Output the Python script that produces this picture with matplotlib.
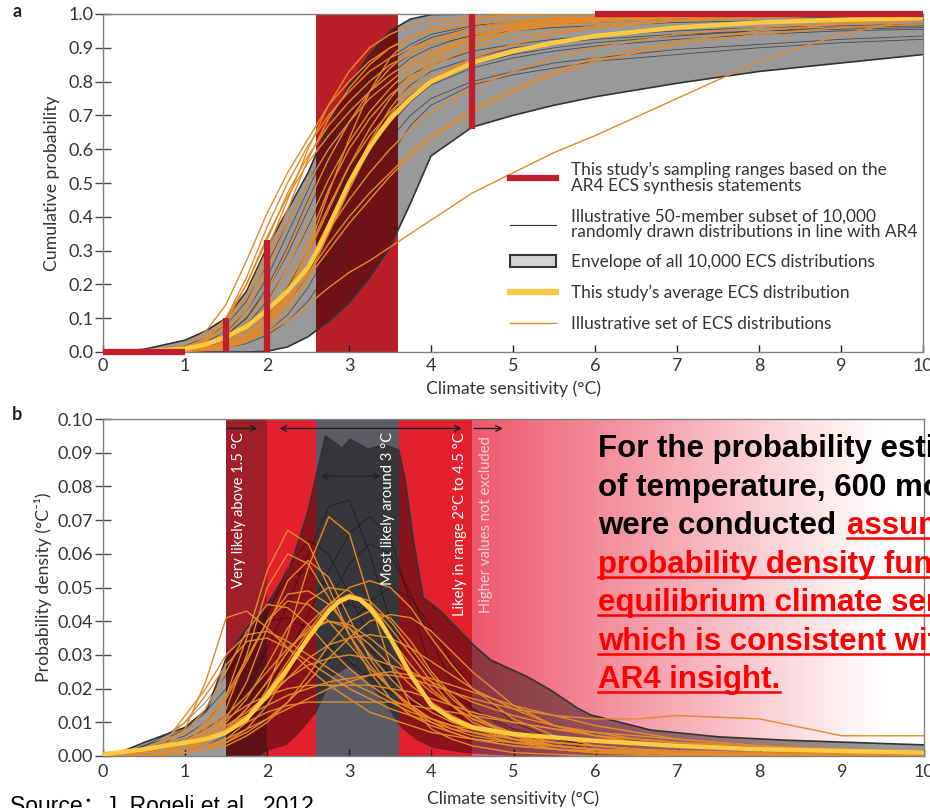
import numpy as np
import matplotlib
matplotlib.use('Agg')
import matplotlib.pyplot as plt
from matplotlib.lines import Line2D
from matplotlib.patches import Patch

plt.rcParams['font.family'] = ['Lato', 'DejaVu Sans']

W, H = 930, 808

# ---------- panel a: cumulative distributions ----------
xc = [0, 0.5, 1.0, 1.25, 1.5, 1.75, 2.0, 2.25, 2.5, 2.75, 3.0, 3.25, 3.5, 3.75,
      4.0, 4.5, 5.0, 5.5, 6.0, 7.0, 8.0, 9.0, 10.0]

env_hi = [0, 0.008, 0.035, 0.062, 0.1, 0.18, 0.31, 0.42, 0.53, 0.67, 0.79, 0.88,
          0.95, 0.985, 0.998, 1, 1, 1, 1, 1, 1, 1, 1]
env_lo = [0, 0, 0, 0, 0, 0, 0.002, 0.015, 0.045, 0.09, 0.145, 0.22, 0.31, 0.44,
          0.58, 0.665, 0.70, 0.73, 0.755, 0.795, 0.83, 0.855, 0.88]

xa = [0, 0.5, 1.0, 1.25, 1.5, 1.75, 2.0, 2.25, 2.5, 2.625, 2.75, 2.875, 3.0, 3.125,
      3.25, 3.375, 3.5, 3.75, 4.0, 4.5, 5.0, 5.5, 6.0, 7.0, 8.0, 9.0, 10.0]
cdf_avg = [0, 0.002, 0.01, 0.022, 0.045, 0.075, 0.124, 0.18, 0.25, 0.305, 0.37, 0.435,
           0.5, 0.555, 0.605, 0.65, 0.69, 0.75, 0.8, 0.855, 0.89, 0.915, 0.935, 0.96,
           0.975, 0.983, 0.988]

cdf_gray = [
    [0, 0.002, 0.02, 0.04, 0.08, 0.15, 0.26, 0.38, 0.5, 0.62, 0.72, 0.8, 0.86, 0.9, 0.93, 0.96, 0.975, 0.985, 0.99, 0.995, 1, 1, 1],
    [0, 0.001, 0.01, 0.025, 0.05, 0.1, 0.18, 0.29, 0.42, 0.55, 0.66, 0.75, 0.82, 0.87, 0.9, 0.94, 0.96, 0.97, 0.975, 0.985, 0.99, 0.99, 0.995],
    [0, 0.001, 0.01, 0.02, 0.04, 0.08, 0.15, 0.25, 0.37, 0.5, 0.61, 0.7, 0.77, 0.82, 0.85, 0.89, 0.91, 0.925, 0.935, 0.95, 0.96, 0.965, 0.97],
    [0, 0.001, 0.008, 0.015, 0.03, 0.06, 0.11, 0.19, 0.3, 0.43, 0.55, 0.65, 0.73, 0.79, 0.83, 0.87, 0.9, 0.915, 0.925, 0.94, 0.95, 0.955, 0.96],
    [0, 0, 0.005, 0.01, 0.02, 0.04, 0.08, 0.14, 0.23, 0.35, 0.47, 0.58, 0.67, 0.74, 0.79, 0.84, 0.87, 0.89, 0.905, 0.925, 0.94, 0.95, 0.955],
    [0, 0, 0.004, 0.008, 0.015, 0.03, 0.06, 0.11, 0.19, 0.3, 0.42, 0.53, 0.63, 0.7, 0.75, 0.8, 0.83, 0.855, 0.87, 0.895, 0.91, 0.925, 0.935],
    [0, 0.002, 0.015, 0.03, 0.06, 0.12, 0.22, 0.35, 0.48, 0.61, 0.72, 0.81, 0.87, 0.91, 0.94, 0.965, 0.98, 0.985, 0.99, 0.995, 1, 1, 1],
    [0, 0, 0.003, 0.006, 0.012, 0.025, 0.05, 0.09, 0.15, 0.24, 0.35, 0.47, 0.58, 0.67, 0.73, 0.79, 0.82, 0.84, 0.86, 0.88, 0.9, 0.915, 0.925],
    [0, 0.001, 0.012, 0.025, 0.05, 0.1, 0.19, 0.31, 0.45, 0.58, 0.69, 0.78, 0.84, 0.88, 0.91, 0.935, 0.95, 0.96, 0.965, 0.975, 0.98, 0.985, 0.99],
    [0, 0, 0.006, 0.012, 0.025, 0.05, 0.1, 0.18, 0.29, 0.41, 0.52, 0.62, 0.7, 0.76, 0.8, 0.85, 0.88, 0.9, 0.915, 0.935, 0.95, 0.96, 0.965],
]

cdf_orange = [
    [0, 0, 0.02, 0.06, 0.14, 0.27, 0.41, 0.53, 0.63, 0.73, 0.8, 0.86, 0.9, 0.93, 0.95, 0.97, 0.98, 0.985, 0.99, 0.995, 1, 1, 1],
    [0, 0, 0.01, 0.04, 0.1, 0.22, 0.37, 0.5, 0.61, 0.7, 0.77, 0.83, 0.87, 0.9, 0.92, 0.95, 0.97, 0.98, 0.985, 0.99, 0.995, 1, 1],
    [0, 0, 0.005, 0.02, 0.06, 0.14, 0.27, 0.42, 0.57, 0.69, 0.78, 0.85, 0.9, 0.93, 0.95, 0.97, 0.98, 0.99, 0.99, 1, 1, 1, 1],
    [0, 0, 0.005, 0.01, 0.02, 0.035, 0.06, 0.09, 0.14, 0.19, 0.235, 0.27, 0.31, 0.35, 0.39, 0.47, 0.53, 0.59, 0.64, 0.75, 0.86, 0.94, 0.99],
    [0, 0, 0.003, 0.01, 0.03, 0.07, 0.14, 0.25, 0.38, 0.51, 0.62, 0.71, 0.78, 0.84, 0.88, 0.93, 0.96, 0.975, 0.985, 0.99, 1, 1, 1],
    [0, 0, 0.002, 0.005, 0.015, 0.03, 0.06, 0.12, 0.22, 0.35, 0.48, 0.6, 0.7, 0.78, 0.84, 0.91, 0.95, 0.97, 0.98, 0.99, 1, 1, 1],
    [0, 0, 0.005, 0.01, 0.025, 0.05, 0.09, 0.15, 0.23, 0.32, 0.4, 0.47, 0.53, 0.59, 0.64, 0.72, 0.78, 0.83, 0.87, 0.92, 0.95, 0.97, 0.98],
    [0, 0, 0.004, 0.01, 0.02, 0.05, 0.1, 0.18, 0.3, 0.43, 0.55, 0.64, 0.71, 0.77, 0.81, 0.87, 0.91, 0.94, 0.96, 0.98, 0.99, 0.995, 1],
    [0, 0, 0.003, 0.008, 0.02, 0.04, 0.08, 0.14, 0.22, 0.3, 0.38, 0.45, 0.52, 0.58, 0.63, 0.71, 0.77, 0.82, 0.86, 0.91, 0.94, 0.96, 0.97],
    [0, 0, 0.002, 0.005, 0.01, 0.03, 0.07, 0.16, 0.3, 0.47, 0.63, 0.77, 0.87, 0.93, 0.96, 0.985, 0.995, 1, 1, 1, 1, 1, 1],
    [0, 0, 0.01, 0.03, 0.08, 0.17, 0.3, 0.45, 0.6, 0.73, 0.83, 0.9, 0.94, 0.965, 0.98, 0.99, 1, 1, 1, 1, 1, 1, 1],
    [0, 0, 0.004, 0.01, 0.025, 0.05, 0.1, 0.17, 0.26, 0.36, 0.45, 0.53, 0.6, 0.66, 0.71, 0.78, 0.83, 0.87, 0.9, 0.94, 0.96, 0.975, 0.985],
    [0, 0, 0.008, 0.02, 0.05, 0.12, 0.24, 0.38, 0.5, 0.6, 0.68, 0.75, 0.8, 0.85, 0.88, 0.92, 0.95, 0.965, 0.975, 0.985, 0.99, 1, 1],
    [0, 0, 0.003, 0.008, 0.02, 0.045, 0.09, 0.17, 0.29, 0.42, 0.55, 0.66, 0.75, 0.82, 0.87, 0.93, 0.96, 0.975, 0.985, 0.99, 0.995, 1, 1],
    [0, 0, 0.006, 0.015, 0.04, 0.09, 0.18, 0.3, 0.44, 0.57, 0.68, 0.77, 0.84, 0.89, 0.92, 0.96, 0.975, 0.985, 0.99, 1, 1, 1, 1],
    [0, 0, 0.003, 0.008, 0.02, 0.045, 0.09, 0.16, 0.26, 0.38, 0.5, 0.6, 0.68, 0.75, 0.8, 0.87, 0.91, 0.94, 0.96, 0.98, 0.99, 0.995, 1],
    [0, 0, 0.01, 0.035, 0.09, 0.2, 0.34, 0.46, 0.56, 0.64, 0.71, 0.77, 0.82, 0.86, 0.89, 0.93, 0.955, 0.97, 0.98, 0.99, 0.995, 1, 1],
    [0, 0, 0.002, 0.006, 0.015, 0.035, 0.075, 0.14, 0.24, 0.36, 0.5, 0.62, 0.72, 0.8, 0.86, 0.93, 0.965, 0.98, 0.99, 1, 1, 1, 1],
    [0, 0, 0.004, 0.012, 0.03, 0.06, 0.11, 0.2, 0.33, 0.48, 0.6, 0.69, 0.76, 0.81, 0.85, 0.9, 0.93, 0.95, 0.965, 0.98, 0.99, 0.995, 1],
    [0, 0, 0.012, 0.04, 0.1, 0.2, 0.33, 0.47, 0.58, 0.67, 0.74, 0.8, 0.85, 0.88, 0.91, 0.94, 0.96, 0.97, 0.98, 0.99, 0.995, 1, 1],
]

# sampling ranges from the AR4 statements
hbar_x0 = [0, 6]
hbar_x1 = [1, 10]
hbar_y = [0.0, 1.0]
vbar_x = [1.5, 2.0, 4.5]
vbar_y0 = [0.0, 0.0, 0.66]
vbar_y1 = [0.1, 0.33, 1.0]

legend_labels = [
    'This study\u2019s sampling ranges based on the\nAR4 ECS synthesis statements',
    'Illustrative 50-member subset of 10,000\nrandomly drawn distributions in line with AR4',
    'Envelope of all 10,000 ECS distributions',
    'This study\u2019s average ECS distribution',
    'Illustrative set of ECS distributions',
]

# ---------- panel b: probability densities ----------
xp = [0, 0.25, 0.5, 0.75, 1.0, 1.25, 1.5, 1.75, 2.0, 2.25, 2.5, 2.75, 3.0, 3.25,
      3.5, 3.75, 4.0, 4.25, 4.5, 5.0, 5.5, 6.0, 6.5, 7.0, 8.0, 9.0, 10.0]

penv_hi_x = [0.1, 0.5, 1.0, 1.27, 1.5, 1.75, 2.0, 2.28, 2.49, 2.71, 2.91, 3.01, 3.23,
             3.42, 3.6, 3.68, 3.78, 3.9, 4.11, 4.51, 4.72, 5.17, 5.45, 5.78, 5.94,
             6.67, 7.49, 8.3, 10.0]
penv_hi_y = [0.0, 0.004, 0.0085, 0.014, 0.029, 0.038, 0.045, 0.056, 0.072, 0.095,
             0.0913, 0.094, 0.091, 0.0923, 0.0908, 0.082, 0.064, 0.047, 0.043, 0.033,
             0.0285, 0.0235, 0.0196, 0.0142, 0.0122, 0.0077, 0.0057, 0.0047, 0.0033]
penv_lo_x = [0.1, 1.9, 2.0, 2.24, 2.4, 2.6, 2.8, 2.99, 3.21, 3.46, 3.62, 3.82, 4.03,
             4.44, 5.0, 10.0]
penv_lo_y = [0, 0, 0.0015, 0.0033, 0.007, 0.013, 0.0235, 0.0265, 0.0225, 0.0147,
             0.0087, 0.0047, 0.0023, 0.0008, 0, 0]

xpa = [0, 0.5, 1.0, 1.25, 1.5, 1.75, 2.0, 2.25, 2.5, 2.625, 2.75, 2.875, 3.0, 3.125,
       3.25, 3.375, 3.5, 3.625, 3.75, 4.0, 4.25, 4.5, 5.0, 5.5, 6.0, 7.0, 8.0, 9.0, 10.0]
pdf_avg = [0.0005, 0.002, 0.004, 0.005, 0.007, 0.011, 0.018, 0.026, 0.035, 0.039, 0.043,
           0.0458, 0.0472, 0.0465, 0.044, 0.04, 0.035, 0.0295, 0.024, 0.015, 0.011,
           0.0085, 0.0065, 0.0055, 0.0045, 0.003, 0.002, 0.0015, 0.001]

pdf_gray = [
    [0, 0, 0.001, 0.002, 0.004, 0.007, 0.012, 0.02, 0.032, 0.045, 0.06, 0.074, 0.076, 0.06, 0.04, 0.024, 0.014, 0.009, 0.006, 0.003, 0.002, 0.001, 0.001, 0, 0, 0, 0],
    [0, 0, 0, 0.001, 0.002, 0.004, 0.007, 0.012, 0.02, 0.03, 0.042, 0.055, 0.066, 0.071, 0.065, 0.045, 0.025, 0.014, 0.008, 0.004, 0.002, 0.001, 0.001, 0, 0, 0, 0],
    [0, 0.001, 0.002, 0.004, 0.006, 0.01, 0.017, 0.028, 0.042, 0.056, 0.064, 0.06, 0.048, 0.035, 0.024, 0.016, 0.011, 0.008, 0.006, 0.004, 0.003, 0.002, 0.0015, 0.001, 0.0005, 0, 0],
    [0, 0, 0, 0.001, 0.002, 0.003, 0.006, 0.01, 0.016, 0.024, 0.034, 0.046, 0.057, 0.063, 0.06, 0.048, 0.034, 0.022, 0.014, 0.007, 0.004, 0.002, 0.001, 0.001, 0, 0, 0],
    [0, 0.001, 0.003, 0.005, 0.008, 0.013, 0.02, 0.03, 0.043, 0.053, 0.055, 0.05, 0.041, 0.032, 0.024, 0.018, 0.013, 0.01, 0.008, 0.005, 0.003, 0.002, 0.0015, 0.001, 0.0005, 0, 0],
    [0, 0.001, 0.002, 0.003, 0.005, 0.008, 0.012, 0.018, 0.025, 0.032, 0.039, 0.044, 0.045, 0.043, 0.038, 0.031, 0.024, 0.018, 0.014, 0.008, 0.005, 0.003, 0.002, 0.0015, 0.001, 0.0005, 0],
    [0, 0.001, 0.003, 0.006, 0.01, 0.016, 0.024, 0.033, 0.04, 0.041, 0.038, 0.033, 0.028, 0.023, 0.019, 0.016, 0.013, 0.011, 0.009, 0.006, 0.004, 0.003, 0.002, 0.0015, 0.001, 0.0005, 0],
    [0, 0, 0, 0, 0.001, 0.002, 0.004, 0.007, 0.011, 0.016, 0.023, 0.031, 0.039, 0.046, 0.05, 0.047, 0.038, 0.028, 0.02, 0.01, 0.005, 0.003, 0.002, 0.001, 0.0005, 0, 0],
]

pdf_orange = [
    [0, 0, 0.001, 0.003, 0.008, 0.022, 0.041, 0.043, 0.038, 0.032, 0.026, 0.021, 0.017, 0.013, 0.011, 0.009, 0.007, 0.006, 0.005, 0.004, 0.003, 0.002, 0.0015, 0.001, 0.0007, 0.0005, 0.0003],
    [0, 0, 0, 0.001, 0.003, 0.008, 0.018, 0.035, 0.055, 0.067, 0.063, 0.05, 0.036, 0.025, 0.017, 0.012, 0.009, 0.007, 0.005, 0.003, 0.002, 0.001, 0.001, 0.0005, 0, 0, 0],
    [0, 0, 0, 0.001, 0.002, 0.006, 0.014, 0.03, 0.05, 0.06, 0.057, 0.047, 0.036, 0.027, 0.02, 0.015, 0.011, 0.008, 0.006, 0.004, 0.002, 0.0015, 0.001, 0.0005, 0, 0, 0],
    [0, 0, 0, 0, 0.001, 0.002, 0.005, 0.01, 0.02, 0.036, 0.056, 0.071, 0.066, 0.046, 0.027, 0.015, 0.008, 0.005, 0.003, 0.001, 0.0005, 0, 0, 0, 0, 0, 0],
    [0, 0, 0, 0.001, 0.002, 0.004, 0.007, 0.012, 0.019, 0.028, 0.037, 0.045, 0.05, 0.052, 0.05, 0.044, 0.035, 0.027, 0.02, 0.011, 0.006, 0.003, 0.002, 0.001, 0, 0, 0],
    [0, 0, 0, 0.001, 0.002, 0.005, 0.01, 0.017, 0.027, 0.038, 0.046, 0.05, 0.049, 0.043, 0.035, 0.027, 0.02, 0.015, 0.011, 0.006, 0.003, 0.002, 0.001, 0.0005, 0, 0, 0],
    [0, 0, 0.001, 0.002, 0.004, 0.009, 0.017, 0.028, 0.04, 0.048, 0.049, 0.045, 0.038, 0.03, 0.023, 0.017, 0.013, 0.01, 0.008, 0.005, 0.003, 0.002, 0.0015, 0.001, 0.0005, 0, 0],
    [0, 0, 0.001, 0.003, 0.007, 0.014, 0.025, 0.037, 0.045, 0.044, 0.039, 0.032, 0.026, 0.021, 0.017, 0.014, 0.011, 0.009, 0.007, 0.005, 0.003, 0.002, 0.0015, 0.001, 0.0005, 0.0003, 0],
    [0, 0, 0, 0, 0.001, 0.002, 0.004, 0.007, 0.011, 0.016, 0.022, 0.029, 0.035, 0.04, 0.042, 0.041, 0.037, 0.031, 0.025, 0.015, 0.009, 0.006, 0.004, 0.003, 0.002, 0.001, 0.0005],
    [0, 0, 0.001, 0.002, 0.003, 0.005, 0.008, 0.012, 0.017, 0.023, 0.029, 0.033, 0.035, 0.036, 0.035, 0.032, 0.028, 0.024, 0.02, 0.014, 0.009, 0.006, 0.004, 0.003, 0.002, 0.001, 0.0005],
    [0, 0, 0.001, 0.002, 0.004, 0.007, 0.011, 0.015, 0.018, 0.02, 0.021, 0.021, 0.021, 0.021, 0.02, 0.019, 0.017, 0.015, 0.013, 0.01, 0.008, 0.006, 0.005, 0.004, 0.003, 0.002, 0.001],
    [0, 0, 0, 0.001, 0.002, 0.004, 0.007, 0.01, 0.013, 0.015, 0.016, 0.016, 0.016, 0.016, 0.016, 0.015, 0.014, 0.013, 0.012, 0.01, 0.008, 0.007, 0.006, 0.005, 0.003, 0.002, 0.001],
    [0, 0, 0.001, 0.002, 0.004, 0.006, 0.009, 0.012, 0.015, 0.018, 0.02, 0.022, 0.023, 0.024, 0.024, 0.023, 0.021, 0.019, 0.017, 0.014, 0.012, 0.011, 0.011, 0.012, 0.011, 0.006, 0.006],
    [0, 0, 0, 0, 0.001, 0.002, 0.004, 0.008, 0.015, 0.025, 0.036, 0.044, 0.047, 0.045, 0.038, 0.03, 0.022, 0.015, 0.01, 0.005, 0.002, 0.001, 0.0005, 0, 0, 0, 0],
    [0, 0, 0.001, 0.004, 0.012, 0.02, 0.03, 0.036, 0.037, 0.034, 0.03, 0.026, 0.022, 0.019, 0.016, 0.013, 0.011, 0.009, 0.008, 0.006, 0.004, 0.003, 0.002, 0.0015, 0.001, 0.0005, 0.0003],
    [0, 0, 0, 0.001, 0.002, 0.004, 0.008, 0.014, 0.022, 0.031, 0.038, 0.04, 0.038, 0.033, 0.027, 0.021, 0.016, 0.012, 0.009, 0.005, 0.003, 0.002, 0.001, 0.001, 0.0005, 0, 0],
    [0, 0, 0, 0.001, 0.002, 0.005, 0.011, 0.022, 0.038, 0.052, 0.058, 0.053, 0.041, 0.029, 0.02, 0.014, 0.01, 0.007, 0.005, 0.003, 0.002, 0.001, 0.001, 0.0005, 0, 0, 0],
    [0, 0, 0, 0.001, 0.002, 0.004, 0.008, 0.014, 0.022, 0.031, 0.039, 0.045, 0.048, 0.046, 0.04, 0.032, 0.024, 0.017, 0.012, 0.006, 0.003, 0.002, 0.001, 0.0005, 0, 0, 0],
    [0, 0, 0.001, 0.002, 0.004, 0.007, 0.012, 0.018, 0.025, 0.032, 0.037, 0.04, 0.039, 0.035, 0.03, 0.024, 0.019, 0.015, 0.011, 0.007, 0.004, 0.003, 0.002, 0.001, 0.0005, 0, 0],
    [0, 0, 0.001, 0.002, 0.005, 0.01, 0.018, 0.029, 0.04, 0.046, 0.045, 0.04, 0.033, 0.026, 0.02, 0.015, 0.011, 0.009, 0.007, 0.004, 0.003, 0.002, 0.001, 0.001, 0.0005, 0, 0],
    [0, 0, 0.001, 0.002, 0.004, 0.006, 0.009, 0.013, 0.018, 0.023, 0.027, 0.029, 0.03, 0.029, 0.027, 0.025, 0.022, 0.019, 0.016, 0.012, 0.009, 0.007, 0.005, 0.004, 0.002, 0.001, 0.0005],
    [0, 0, 0, 0, 0.001, 0.002, 0.003, 0.006, 0.01, 0.016, 0.024, 0.033, 0.04, 0.043, 0.041, 0.034, 0.025, 0.018, 0.012, 0.006, 0.003, 0.002, 0.001, 0.0005, 0, 0, 0],
    [0, 0, 0.002, 0.005, 0.01, 0.018, 0.027, 0.034, 0.035, 0.032, 0.028, 0.024, 0.02, 0.017, 0.014, 0.012, 0.01, 0.008, 0.007, 0.005, 0.004, 0.003, 0.002, 0.0015, 0.001, 0.0005, 0.0003],
    [0, 0, 0, 0.001, 0.002, 0.003, 0.005, 0.008, 0.011, 0.014, 0.017, 0.02, 0.022, 0.024, 0.025, 0.024, 0.023, 0.021, 0.019, 0.015, 0.012, 0.009, 0.007, 0.005, 0.003, 0.002, 0.001],
]

RED = '#BE1E2D'
BAND_A = '#B91F26'
YELLOW = '#FFC940'
ORANGE = '#E38A2A'
TXT = '#333333'

fig = plt.figure(figsize=(W / 100, H / 100), dpi=100)
ax1 = fig.add_axes([103 / W, 1 - 352 / H, 820 / W, 338 / H])
ax2 = fig.add_axes([103 / W, 1 - 756 / H, 821 / W, 337 / H])

# panel a
ax1.axvspan(2.6, 3.6, color=BAND_A, lw=0, zorder=1)
ax1.fill(np.r_[xc, xc[::-1]], np.r_[env_hi, env_lo[::-1]], color='k', alpha=0.4, lw=0, zorder=2)
ax1.plot(xc, env_hi, color='#333333', lw=1.2, zorder=2.5)
ax1.plot(xc, env_lo, color='#333333', lw=1.2, zorder=2.5)
for g in cdf_gray:
    ax1.plot(xc, g, color='#2a2a2a', lw=0.6, alpha=0.7, zorder=3)
for o in cdf_orange:
    ax1.plot(xc, o, color=ORANGE, lw=1.0, zorder=4)
ax1.plot(xa, cdf_avg, color=YELLOW, lw=3.2, zorder=5, solid_capstyle='round')
ax1.hlines(hbar_y, hbar_x0, hbar_x1, color=RED, lw=4.5, zorder=6, clip_on=False)
ax1.vlines(vbar_x, vbar_y0, vbar_y1, color=RED, lw=4.5, zorder=6, clip_on=False)

ax1.set_xlim(0, 10)
ax1.set_ylim(0, 1)
ax1.set_xticks(range(11))
ax1.set_yticks(np.arange(0, 1.01, 0.1))
ax1.set_yticklabels([f'{v:.1f}' for v in np.arange(0, 1.01, 0.1)])
ax1.set_xlabel('Climate sensitivity (\u00b0C)', fontsize=12.7, color=TXT, labelpad=5)
ax1.set_ylabel('Cumulative probability', fontsize=12.7, color=TXT, labelpad=6)

handles = [Line2D([], [], color=RED, lw=4.5),
           Line2D([], [], color='#333333', lw=0.8),
           Patch(facecolor='#d3d3d3', edgecolor='#333333', lw=1.5),
           Line2D([], [], color=YELLOW, lw=4.5),
           Line2D([], [], color=ORANGE, lw=1.0)]
leg = ax1.legend(handles, legend_labels, loc='upper left', bbox_to_anchor=(0.496, 0.562),
                 frameon=False, fontsize=12.4, handlelength=2.7, handletextpad=0.85,
                 labelspacing=0.85, borderaxespad=0, borderpad=0)
for t in leg.get_texts():
    t.set_color(TXT)
    t.set_linespacing(0.95)

# panel b backgrounds
ax2.axvspan(1.5, 2.0, color='#9E1F28', lw=0, zorder=0.5)
ax2.axvspan(2.0, 2.6, color='#E3202D', lw=0, zorder=0.5)
ax2.axvspan(2.6, 3.6, color='#5B5B63', lw=0, zorder=0.5)
ax2.axvspan(3.6, 4.5, color='#E3202D', lw=0, zorder=0.5)
t = np.clip((np.linspace(4.5, 10, 300) - 4.5) / 5.0, 0, 1)[None, :, None]
c0 = np.array([238, 88, 108]) / 255
grad = c0 * (1 - t) + 1.0 * t
ax2.imshow(grad, extent=[4.5, 10, 0, 0.1], aspect='auto', zorder=0.4, interpolation='bilinear')

ax2.fill(np.r_[penv_hi_x, penv_lo_x[::-1]], np.r_[penv_hi_y, penv_lo_y[::-1]],
         color='k', alpha=0.4, lw=0, zorder=2)
ax2.plot(penv_hi_x, penv_hi_y, color='#333333', lw=1.2, zorder=2.5)
for g in pdf_gray:
    ax2.plot(xp, g, color='#111111', lw=0.6, alpha=0.6, zorder=3)
for o in pdf_orange:
    ax2.plot(xp, o, color=ORANGE, lw=1.0, zorder=4)
ax2.plot(xpa, pdf_avg, color=YELLOW, lw=3.2, zorder=5)

arrow_kw = dict(color='#222222', lw=1.0, shrinkA=0, shrinkB=0)
ax2.annotate('', xy=(1.88, 0.0972), xytext=(1.51, 0.0972), arrowprops=dict(arrowstyle='->', **arrow_kw), zorder=7)
ax2.annotate('', xy=(4.37, 0.0972), xytext=(2.15, 0.0972), arrowprops=dict(arrowstyle='<->', **arrow_kw), zorder=7)
ax2.annotate('', xy=(4.87, 0.0972), xytext=(4.52, 0.0972), arrowprops=dict(arrowstyle='->', **arrow_kw), zorder=7)
ax2.annotate('', xy=(3.38, 0.083), xytext=(2.65, 0.083), arrowprops=dict(arrowstyle='<->', **arrow_kw), zorder=7)

vt = dict(rotation=90, ha='center', va='top', fontsize=10.6, zorder=7)
ax2.text(1.66, 0.0962, 'Very likely above 1.5 \u00b0C', color='white', **vt)
ax2.text(3.47, 0.0962, 'Most likely around 3 \u00b0C', color='white', **vt)
ax2.text(4.35, 0.0962, 'Likely in range 2\u00b0C to 4.5 \u00b0C', color='white', **vt)
ax2.text(4.66, 0.0948, 'Higher values not excluded', color='#F9D0D6', **vt)

ax2.set_xlim(0, 10)
ax2.set_ylim(0, 0.1)
ax2.set_xticks(range(11))
ax2.set_yticks(np.arange(0, 0.1001, 0.01))
ax2.set_yticklabels([f'{v:.2f}' for v in np.arange(0, 0.1001, 0.01)])
ax2.set_xlabel('Climate sensitivity (\u00b0C)', fontsize=12.5, color=TXT, labelpad=7)
ax2.set_ylabel('Probability density (\u00b0C\u207b\u00b9)', fontsize=12.7, color=TXT, labelpad=4)

for ax in (ax1, ax2):
    for s in ax.spines.values():
        s.set_color('#808080')
        s.set_linewidth(1.0)
    ax.tick_params(axis='y', direction='inout', length=12, width=1, color='#444444',
                   labelsize=13, labelcolor=TXT, pad=1)
    ax.tick_params(axis='x', direction='in', length=5, width=1, color='#222222',
                   labelsize=13, labelcolor=TXT, pad=4)
ax2.tick_params(axis='x', pad=6)

fig.text(12 / W, 1 - 17 / H, 'a', fontsize=13, weight='bold', color='#222222')
fig.text(12 / W, 1 - 420 / H, 'b', fontsize=13, weight='bold', color='#222222')

fig.text(10 / W, 1 - 813 / H, 'Source\uff1aJ. Rogelj et al., 2012', fontsize=16.5, va='baseline',
         family=['Liberation Sans', 'Noto Sans CJK SC'], color='black')

# overlay note
note_lines = [
    ('For the probability estimation', None),
    ('of temperature, 600 model runs', None),
    ('were conducted', 'assuming the'),
    (None, 'probability density function of'),
    (None, 'equilibrium climate sensitivity'),
    (None, 'which is consistent with the'),
    (None, 'AR4 insight.'),
]
note_kw = dict(fontsize=22.5, weight='bold', family=['Liberation Sans', 'DejaVu Sans'],
               va='baseline', ha='left', zorder=10)
fig.canvas.draw()
renderer = fig.canvas.get_renderer()
x_start, base0, pitch = 598, 457, 38.5
for i, (black, red) in enumerate(note_lines):
    yb = base0 + i * pitch
    xr = x_start
    if black:
        tb = fig.text(x_start / W, 1 - yb / H, black, color='black', **note_kw)
        if red:
            xr = tb.get_window_extent(renderer).x1 + 11
    if red:
        tr = fig.text(xr / W, 1 - yb / H, red, color='#FF0000', **note_kw)
        bb = tr.get_window_extent(renderer)
        x1 = min(bb.x1, W)
        fig.add_artist(Line2D([xr / W, x1 / W], [1 - (yb + 4) / H] * 2, transform=fig.transFigure,
                              color='#FF0000', lw=1.8, zorder=10))

fig.savefig('out.png', dpi=100)
